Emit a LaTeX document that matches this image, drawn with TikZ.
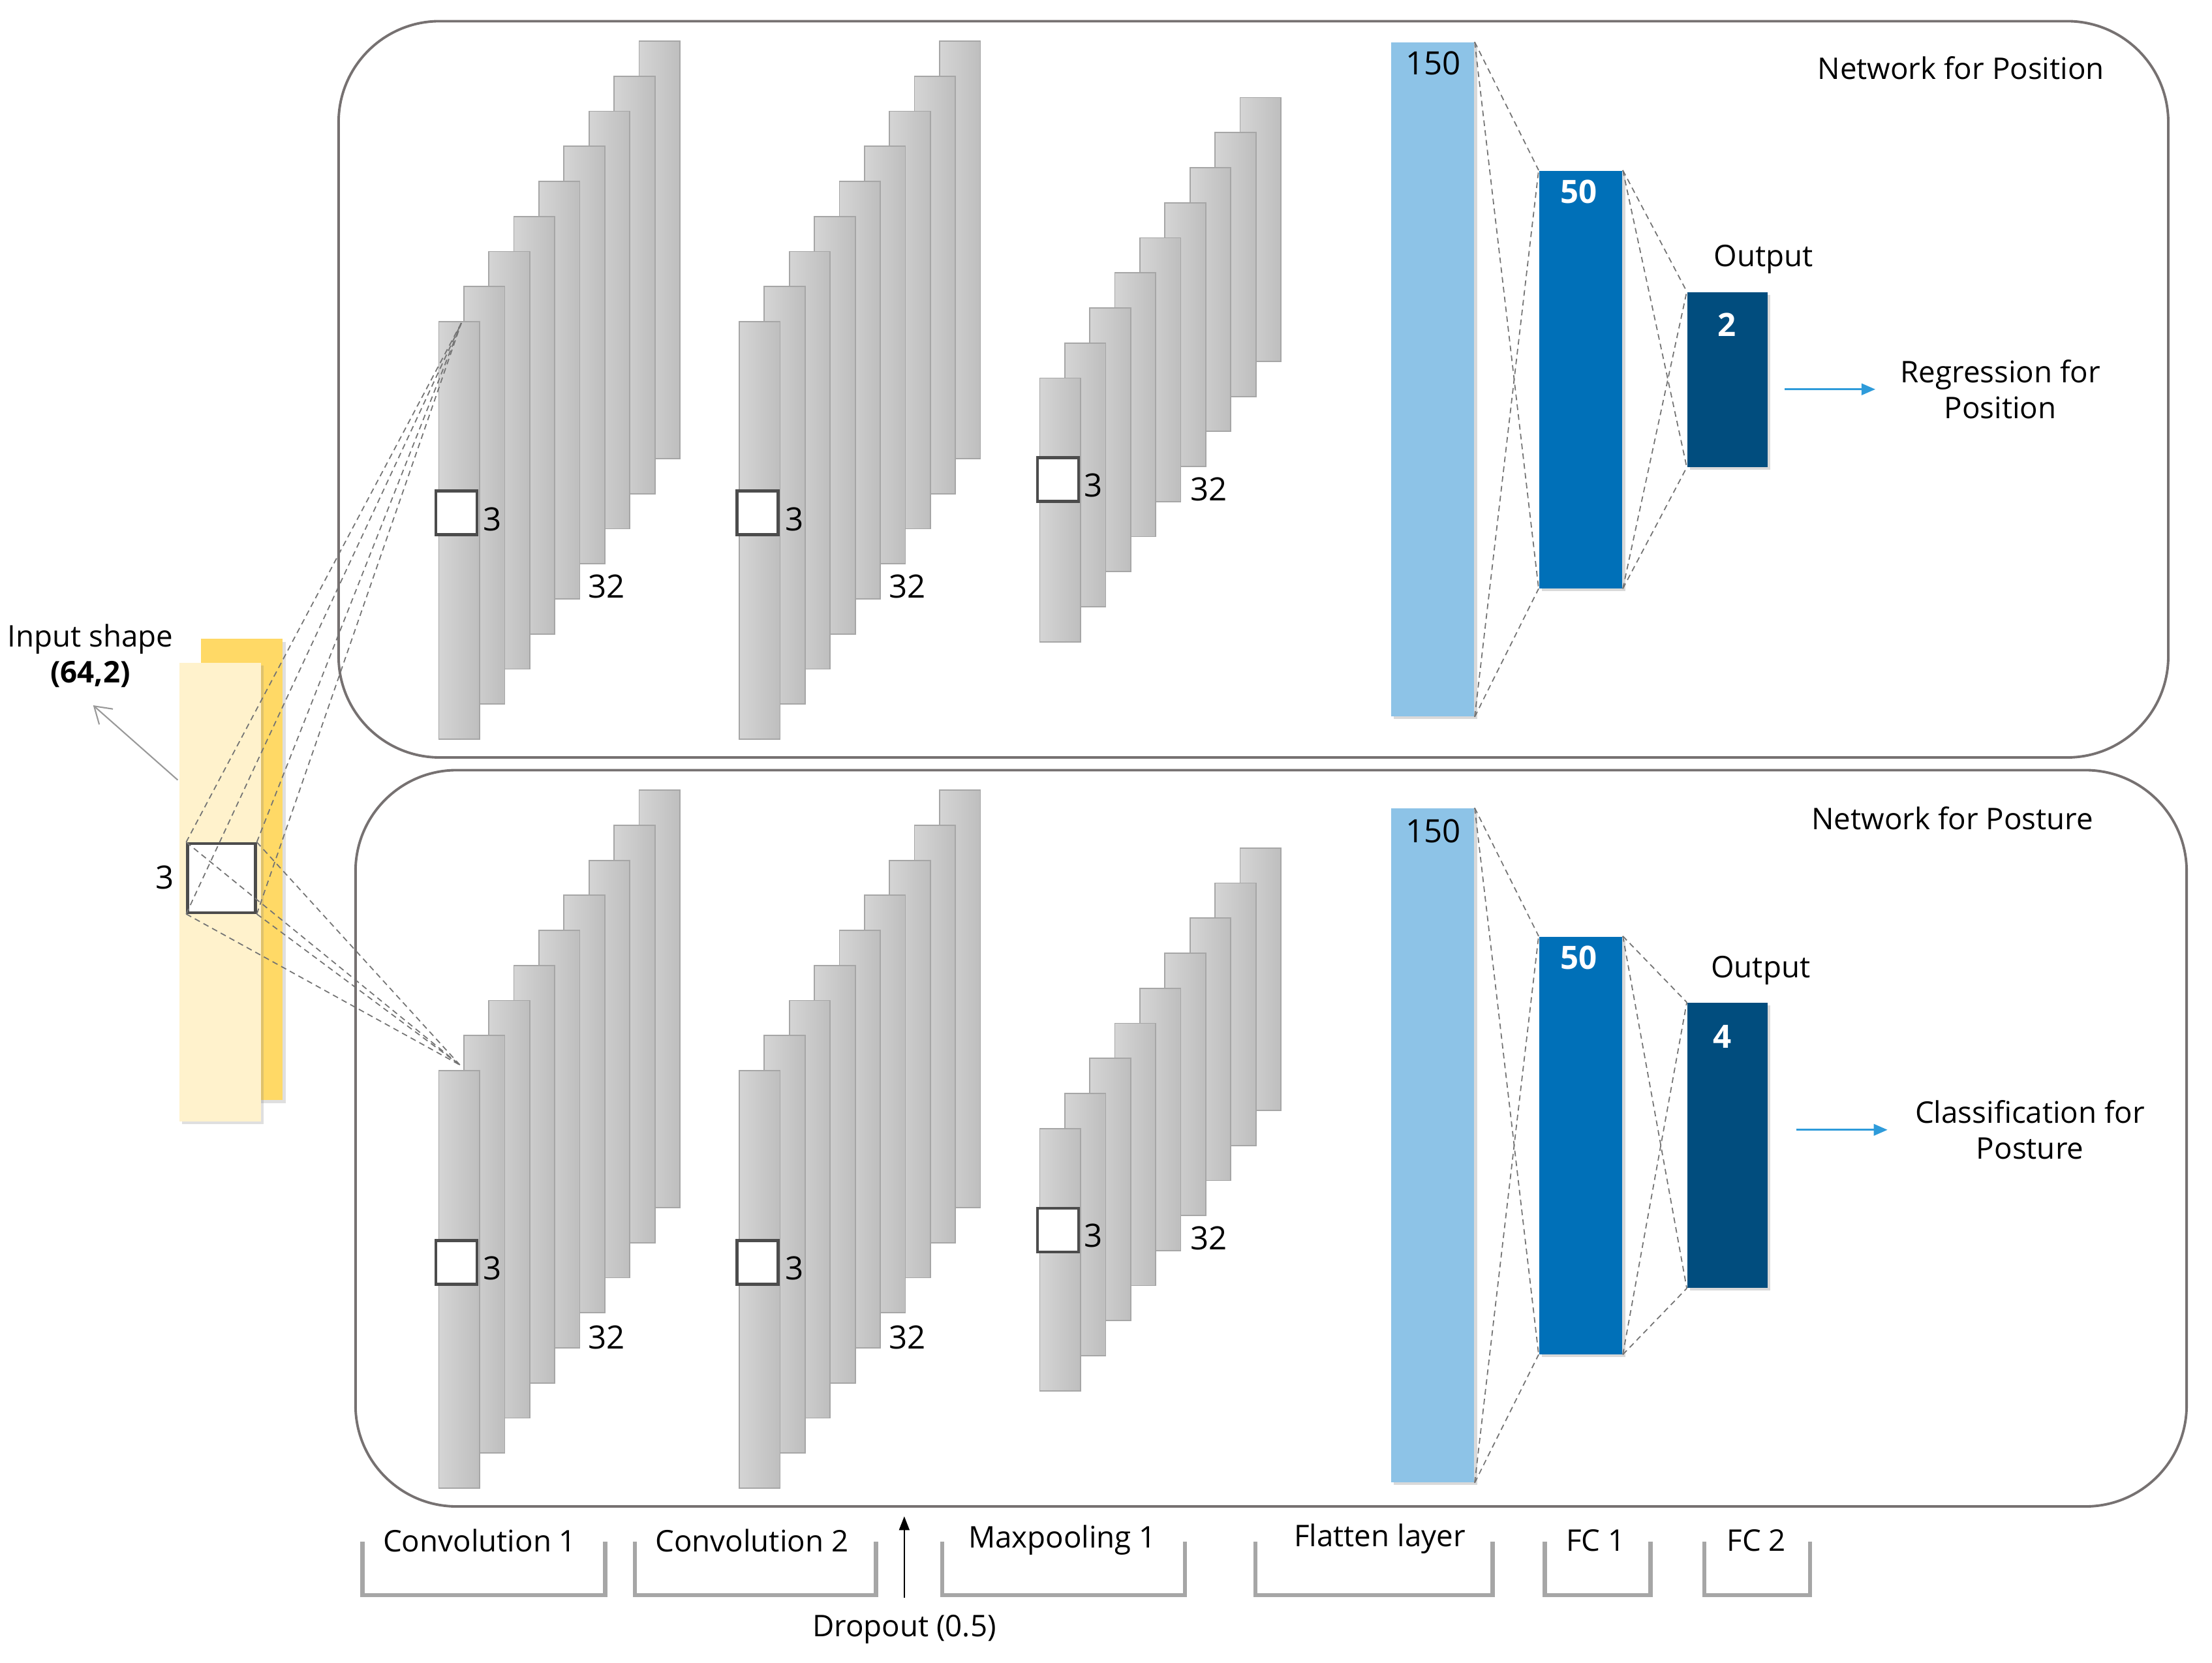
\documentclass[tikz,border=0pt]{standalone}
\usepackage{fontspec}
\setmainfont{Open Sans}
\usetikzlibrary{arrows.meta,shadows,positioning}

\definecolor{inlight}{HTML}{FFF2CC}
\definecolor{indark}{HTML}{FFD966}
\definecolor{fmapl}{HTML}{D5D5D5}
\definecolor{fmapr}{HTML}{BEBEBE}
\definecolor{fmapedge}{HTML}{A6A6A6}
\definecolor{flatblue}{HTML}{8DC3E7}
\definecolor{fcblue}{HTML}{0070B8}
\definecolor{outblue}{HTML}{014D7E}
\definecolor{arrowblue}{HTML}{2E9BDA}
\definecolor{panelgray}{HTML}{767171}
\definecolor{brackgray}{HTML}{A6A6A6}

\tikzset{
  panel/.style={draw=panelgray, line width=1.1pt, rounded corners=1.55cm},
  fmap/.style={draw=fmapedge, line width=0.5pt, left color=fmapl, right color=fmapr},
  kernel/.style={draw=black!70, line width=1.2pt, fill=white, inner sep=0pt},
  ksize/.style={minimum width=0.63cm, minimum height=0.67cm},
  inbox/.style={inner sep=0pt, minimum width=1.25cm,
    drop shadow={shadow xshift=1.2pt, shadow yshift=-1.2pt, opacity=0.25}},
  layer/.style={inner sep=0pt, minimum width=1.276cm,
    drop shadow={shadow xshift=1.2pt, shadow yshift=-1.2pt, opacity=0.3}},
  conn/.style={draw=black!55, line width=0.5pt, dash pattern=on 2.5pt off 1.8pt},
  lbl/.style={font=\fontsize{13}{15.5}\selectfont, align=center},
  num/.style={font=\fontsize{14}{16}\selectfont},
  bnum/.style={text=white, font=\fontsize{14}{16}\selectfont\bfseries},
  bracket/.style={draw=brackgray, line width=1.8pt},
  outarrow/.style={draw=arrowblue, line width=0.8pt, -{Triangle[length=6pt,width=5pt]}},
}

% nine feature maps, front one at (#1,#2), height #3
\newcommand{\fmapstack}[3]{%
  \foreach \k in {8,7,...,0}
    \draw[fmap] ({#1+17.75*\k},{#2-24.85*\k}) rectangle ++(29,#3);
}

\begin{document}
\begin{tikzpicture}[x=0.02162cm,y=-0.02162cm]
\useasboundingbox (0,0) rectangle (1568,1179);

% the two networks
\draw[panel] (240,15) rectangle (1537,537);
\draw[panel] (252,546) rectangle (1550,1068);
\node[lbl] (ttlpos) at (1390,48) {Network for Position};
\node[lbl] (ttlpst) at (1384,580) {Network for Posture};

% input
\node[inbox, fill=indark, minimum height=7.07cm] (inB) at (171.5,616.5) {};
\node[inbox, fill=inlight, minimum height=7.03cm] (inF) at (156,632.5) {};
\node[kernel, minimum width=1.04cm, minimum height=1.06cm] (win) at (157,622.5) {};
\node[num] (winn) at (117,622) {3};
\node[lbl] (inlbl) at (64,465) {Input shape\\\textbf{(64,2)}};
\coordinate (inpt) at (126,553);
\draw[draw=black!40, line width=0.6pt, -{Straight Barb[length=7pt,width=9pt]}] (inpt) -- (66,500);

% convolution and pooling maps
\fmapstack{311}{228}{296}
\fmapstack{524}{228}{296}
\fmapstack{737}{268}{187}
\fmapstack{311}{759}{296}
\fmapstack{524}{759}{296}
\fmapstack{737}{800}{186}

\node[kernel, ksize] (k1a) at (323.5,363.5) {};
\node[kernel, ksize] (k2a) at (537,363.5) {};
\node[kernel, ksize] (kma) at (750,340) {};
\node[kernel, ksize] (k1b) at (323.5,895) {};
\node[kernel, ksize] (k2b) at (537,895) {};
\node[kernel, ksize] (kmb) at (750,872) {};
\node[num] (k1an) at (349,368) {3};
\node[num] (k2an) at (563,368) {3};
\node[num] (kman) at (775,344) {3};
\node[num] (k1bn) at (349,899) {3};
\node[num] (k2bn) at (563,899) {3};
\node[num] (kmbn) at (775,876) {3};
\node[num] (d1a) at (430,416) {32};
\node[num] (d2a) at (643,416) {32};
\node[num] (dma) at (857,347) {32};
\node[num] (d1b) at (430,948) {32};
\node[num] (d2b) at (643,948) {32};
\node[num] (dmb) at (857,878) {32};

% receptive field of the first convolution
\coordinate (c1a) at (327,229);
\coordinate (c1b) at (326,755);
\foreach \c in {north west,north east,south east,south west} {
  \draw[conn] (win.\c) -- (c1a);
  \draw[conn] (win.\c) -- (c1b);
}

% dense part, position
\node[layer, fill=flatblue, minimum height=10.33cm] (fla) at (1015.5,269) {};
\node[layer, fill=fcblue, minimum height=6.40cm] (fca) at (1120.5,269) {};
\node[layer, fill=outblue, minimum width=1.232cm, minimum height=2.68cm] (ota) at (1224.5,269) {};
\node[num] (fla150) at (1016,45) {150};
\node[bnum] (fca50) at (1119,136) {50};
\node[bnum] (ota2) at (1224,230) {2};
\node[lbl] (otalbl) at (1250,184) {Output};
\node[lbl] (reg) at (1418,276) {Regression for\\Position};
\draw[outarrow] ([xshift=-1.65cm]reg.west) -- ([xshift=-0.26cm]reg.west);

% dense part, posture
\node[layer, fill=flatblue, minimum height=10.33cm] (flb) at (1015.5,812) {};
\node[layer, fill=fcblue, minimum height=6.40cm] (fcb) at (1120.5,812) {};
\node[layer, fill=outblue, minimum width=1.232cm, minimum height=4.37cm] (otb) at (1224.5,812) {};
\node[num] (flb150) at (1016,589) {150};
\node[bnum] (fcb50) at (1119,679) {50};
\node[bnum] (otb4) at (1221,735) {4};
\node[lbl] (otblbl) at (1248,688) {Output};
\node[lbl] (cls) at (1439,801) {Classification for\\Posture};
\draw[outarrow] ([xshift=-1.7cm]cls.west) -- ([xshift=-0.3cm]cls.west);

\foreach \s in {north east,south east}
  \foreach \t in {north west,south west} {
    \draw[conn] (fla.\s) -- (fca.\t);
    \draw[conn] (fca.\s) -- (ota.\t);
    \draw[conn] (flb.\s) -- (fcb.\t);
    \draw[conn] (fcb.\s) -- (otb.\t);
  }

% layer names
\draw[bracket] (257,1093) |- (429,1131) -- (429,1093);
\draw[bracket] (450,1093) |- (621,1131) -- (621,1093);
\draw[bracket] (668,1093) |- (840,1131) -- (840,1093);
\draw[bracket] (890,1093) |- (1058,1131) -- (1058,1093);
\draw[bracket] (1095,1093) |- (1170,1131) -- (1170,1093);
\draw[bracket] (1208,1093) |- (1283,1131) -- (1283,1093);
\node[lbl] (bconv1) at (340,1092) {Convolution 1};
\node[lbl] (bconv2) at (533,1092) {Convolution 2};
\node[lbl] (bpool) at (753,1092) {Maxpooling 1};
\node[lbl] (bflat) at (978,1091) {Flatten layer};
\node[lbl] (bfc1) at (1131,1092) {FC 1};
\node[lbl] (bfc2) at (1245,1092) {FC 2};
\node[lbl] (drop) at (641,1155) {Dropout (0.5)};
\coordinate (droptip) at (641,1075);
\draw[line width=0.6pt, -{Triangle[length=6pt,width=4.5pt]}, shorten <=4pt] (drop.north) -- (droptip);
\end{tikzpicture}
\end{document}
